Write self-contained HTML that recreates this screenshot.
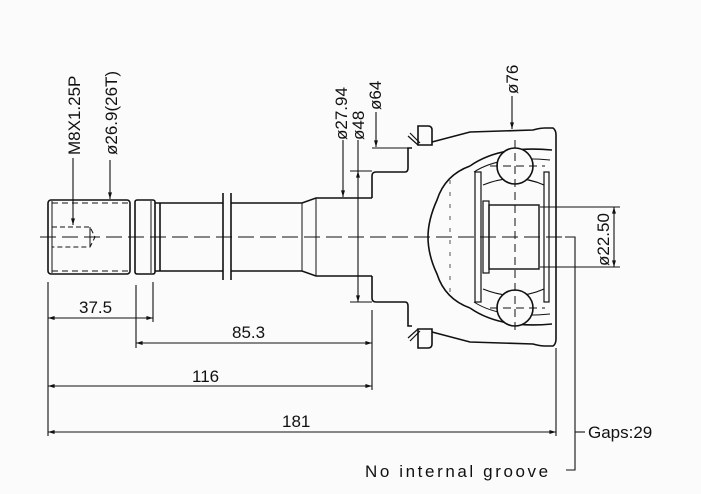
<!DOCTYPE html>
<html><head><style>
html,body{margin:0;padding:0;background:#fff}
svg{display:block}
text{font-family:"Liberation Sans",sans-serif;fill:#111}
</style></head><body>
<svg width="701" height="494" viewBox="0 0 701 494" xmlns="http://www.w3.org/2000/svg">
<defs>
<marker id="a" viewBox="0 0 10 10" refX="10" refY="5" markerWidth="8" markerHeight="6" orient="auto-start-reverse"><path d="M0,2 L10,5 L0,8 z" fill="#111"/></marker>
</defs>
<rect width="701" height="494" fill="#fbfbfb"/>
<g stroke="#111" fill="none" stroke-width="1.6">
<line x1="40" y1="237" x2="575" y2="237" stroke-dasharray="16,6" stroke-width="1"/>
<rect x="48" y="200" width="82" height="74" rx="3"/>
<line x1="52" y1="201" x2="52" y2="273" stroke-width="1"/>
<line x1="52" y1="203" x2="128" y2="203" stroke-dasharray="6,4" stroke-width="1"/>
<line x1="52" y1="271" x2="128" y2="271" stroke-dasharray="6,4" stroke-width="1"/>
<path d="M52,227 H90 L95,237 L90,247 H52" stroke-dasharray="5,3" stroke-width="1"/>
<line x1="90" y1="227" x2="90" y2="247" stroke-width="1"/>
<rect x="135" y="200" width="20" height="74" rx="2"/>
<line x1="151" y1="201" x2="151" y2="273" stroke-width="1"/>
<path d="M155,203 H223 M231,203 H302 L316,198 H372 M155,271 H223 M231,271 H302 L316,276 H372"/>
<line x1="160" y1="203" x2="160" y2="271"/>
<line x1="302" y1="203" x2="302" y2="271" stroke-width="1"/>
<line x1="316" y1="198" x2="316" y2="276" stroke-width="1"/>
<line x1="223" y1="193" x2="223" y2="280"/>
<line x1="231" y1="193" x2="231" y2="280"/>
<path d="M372,198 V176 Q372,172 376,172 H405 Q408,172 408,168 V148 H412"/>
<path d="M372,276 V298 Q372,302 376,302 H405 Q408,302 408,306 V326 H412"/>
<path d="M418,126 H428 Q432,126 432,130 V145 H418 Z"/>
<path d="M408,136 L418,145 M410,133 L420,143" stroke-width="1.2"/>
<path d="M418,348 H428 Q432,348 432,344 V329 H418 Z"/>
<path d="M408,338 L418,329 M410,341 L420,331" stroke-width="1.2"/>
<path d="M432,142 L470,132 L533,130 Q540,128 545,128 H553 Q556,130 556,135 V339 Q556,344 553,346 H545 Q540,346 533,344 L470,342 L432,332"/>
<path d="M470,166 Q445,175 437,200 Q428,220 428,237 Q428,255 437,274 Q445,299 470,308"/>
<path d="M470,166 Q500,145 552,150 M470,308 Q500,329 552,324"/>
<path d="M474,172 Q500,155 550,160 M474,302 Q500,319 550,314" stroke-width="1"/>
<rect x="475" y="172" width="6" height="130" stroke-width="1.2"/>
<rect x="544" y="172" width="5" height="130" stroke-width="1.2"/>
<path d="M483,185 Q515,172 544,185 M483,289 Q515,302 544,289" stroke-width="1.2"/>
<rect x="483" y="201" width="6" height="72" stroke-width="1.2"/>
<rect x="489" y="205" width="50" height="64" stroke-width="1.4"/>
<circle cx="515" cy="166" r="18" fill="#fbfbfb"/>
<circle cx="515" cy="308" r="18" fill="#fbfbfb"/>
<line x1="515" y1="140" x2="515" y2="334" stroke-dasharray="8,5" stroke-width="1"/>
<line x1="490" y1="166" x2="545" y2="166" stroke-dasharray="8,5" stroke-width="1"/>
<line x1="490" y1="308" x2="545" y2="308" stroke-dasharray="8,5" stroke-width="1"/>
<line x1="450" y1="180" x2="450" y2="294" stroke-dasharray="4,8" stroke-width="0.7"/>
</g>
<g stroke="#111" fill="none" stroke-width="1.1">
<line x1="73" y1="158" x2="73" y2="225" marker-end="url(#a)"/>
<line x1="110" y1="160" x2="110" y2="199" marker-end="url(#a)"/>
<line x1="343" y1="140" x2="343" y2="197" marker-end="url(#a)"/>
<line x1="358" y1="140" x2="358" y2="172"/>
<line x1="358" y1="171" x2="358" y2="302" marker-start="url(#a)" marker-end="url(#a)"/>
<line x1="350" y1="171" x2="372" y2="171"/><line x1="350" y1="302" x2="372" y2="302"/>
<line x1="376" y1="112" x2="376" y2="147" marker-end="url(#a)"/>
<line x1="372" y1="148" x2="408" y2="148"/>
<line x1="512" y1="96" x2="512" y2="129" marker-end="url(#a)"/>
<line x1="540" y1="207" x2="620" y2="207"/><line x1="540" y1="267" x2="620" y2="267"/>
<line x1="614" y1="207" x2="614" y2="267" marker-start="url(#a)" marker-end="url(#a)"/>
<line x1="48" y1="282" x2="48" y2="436"/>
<line x1="153" y1="282" x2="153" y2="322"/>
<line x1="136" y1="285" x2="136" y2="348"/>
<line x1="372" y1="310" x2="372" y2="390"/>
<line x1="556" y1="348" x2="556" y2="436"/>
<line x1="48" y1="318" x2="153" y2="318" marker-start="url(#a)" marker-end="url(#a)"/>
<line x1="136" y1="343" x2="372" y2="343" marker-start="url(#a)" marker-end="url(#a)"/>
<line x1="48" y1="386" x2="372" y2="386" marker-start="url(#a)" marker-end="url(#a)"/>
<line x1="48" y1="432" x2="556" y2="432" marker-start="url(#a)" marker-end="url(#a)"/>
<path d="M565,237 H575 V470 H566"/>
<line x1="575" y1="432" x2="585" y2="432"/>
</g>
<g font-size="17">
<text x="79" y="313">37.5</text>
<text x="232" y="338">85.3</text>
<text x="192" y="382">116</text>
<text x="282" y="427">181</text>
<text x="588" y="438">Gaps:29</text>
<text x="365" y="477" letter-spacing="2.6">No internal groove</text>
<text transform="translate(80,155) rotate(-90)">M8X1.25P</text>
<text transform="translate(117,155) rotate(-90)">ø26.9(26T)</text>
<text transform="translate(347,140) rotate(-90)">ø27.94</text>
<text transform="translate(364,140) rotate(-90)">ø48</text>
<text transform="translate(381,110) rotate(-90)">ø64</text>
<text transform="translate(518,94) rotate(-90)">ø76</text>
<text transform="translate(609,266) rotate(-90)">ø22.50</text>
</g>
</svg>
</body></html>
